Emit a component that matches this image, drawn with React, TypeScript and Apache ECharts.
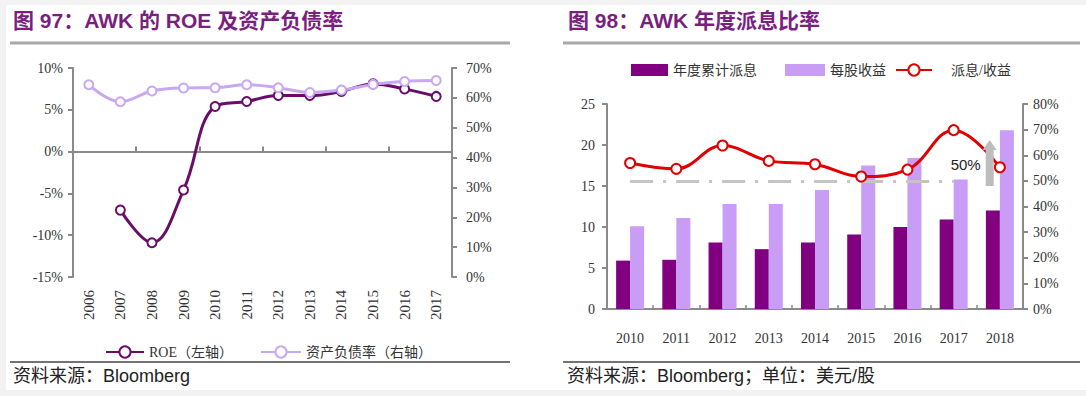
import React, { useEffect, useRef } from "react";
import * as echarts from "echarts";

// ---------- Data: Figure 97 ----------
const roeYears = ["2006", "2007", "2008", "2009", "2010", "2011", "2012", "2013", "2014", "2015", "2016", "2017"];
const roeValues: (number | null)[] = [null, -7.0, -10.9, -4.6, 5.4, 6.0, 6.7, 6.7, 7.2, 8.1, 7.5, 6.6];
const debtRatio = [64.4, 58.7, 62.3, 63.3, 63.4, 64.4, 63.4, 61.8, 62.6, 64.5, 65.5, 65.8];

// ---------- Data: Figure 98 ----------
const payYears = ["2010", "2011", "2012", "2013", "2014", "2015", "2016", "2017", "2018"];
const dividends = [5.9, 6.0, 8.1, 7.3, 8.1, 9.1, 10.0, 10.9, 12.0];
const eps = [10.1, 11.1, 12.8, 12.8, 14.5, 17.5, 18.4, 15.8, 21.8];
const payoutRatio = [57.0, 54.7, 63.8, 57.8, 56.5, 51.7, 54.4, 69.8, 55.3];
const payoutLine = 50;
const arrowTop = 66;

const SERIF = "'Liberation Serif', 'Times New Roman', 'Noto Sans CJK SC', serif";
const SANS = "'Liberation Sans', Arial, 'Noto Sans CJK SC', sans-serif";
const TITLE_COLOR = "#7a1f7e";
const AXIS_COLOR = "#8a8a8a";
const ROE_COLOR = "#6a0d6a";
const DEBT_COLOR = "#c8a8f0";
const DIV_COLOR = "#800080";
const EPS_COLOR = "#c99cf6";
const RED = "#e00000";

const axisLabel = { fontFamily: SERIF, fontSize: 14, color: "#333" };

export default function App() {
  const ref = useRef<HTMLDivElement>(null);
  useEffect(() => {
    document.body.style.margin = "0";
    const chart = echarts.init(ref.current!, null, { renderer: "svg" });
    const legendText = { fontFamily: SERIF, fontSize: 14, color: "#333" };
    chart.setOption({
      animation: false,
      backgroundColor: "#f2f2f2",
      grid: [
        { left: 73, top: 68, width: 379, height: 209 },
        { left: 607, top: 104, width: 416, height: 205 },
      ],
      legend: [
        { left: 100, top: 340, itemWidth: 38, itemHeight: 14, data: ["ROE（左轴）"], textStyle: legendText },
        { left: 255, top: 340, itemWidth: 40, itemHeight: 14, data: ["资产负债率（右轴）"], textStyle: legendText },
        { left: 626, top: 58, itemWidth: 37, itemHeight: 12, icon: "rect", data: ["年度累计派息"], textStyle: legendText },
        { left: 780, top: 58, itemWidth: 40, itemHeight: 12, icon: "rect", data: ["每股收益"], textStyle: legendText },
        { left: 890, top: 58, itemWidth: 36, itemHeight: 14, data: ["派息/收益"], textStyle: { ...legendText, padding: [0, 0, 0, 14] } },
      ],
      xAxis: [
        {
          gridIndex: 0,
          type: "category",
          data: roeYears,
          position: "bottom",
          axisLine: { show: true, onZero: true, onZeroAxisIndex: 0, lineStyle: { color: AXIS_COLOR, width: 2 } },
          axisTick: { show: true, inside: true, length: 5, lineStyle: { color: AXIS_COLOR, width: 2 } },
          axisLabel: { show: false },
        },
        {
          gridIndex: 0,
          type: "category",
          data: roeYears,
          position: "bottom",
          axisLine: { show: false, onZero: false },
          axisTick: { show: false },
          axisLabel: { ...axisLabel, fontSize: 15, rotate: 90, margin: 13, interval: 0 },
        },
        {
          gridIndex: 1,
          type: "category",
          data: payYears,
          position: "bottom",
          axisLine: { show: true, lineStyle: { color: AXIS_COLOR, width: 2 } },
          axisTick: { show: true, inside: true, length: 4, lineStyle: { color: AXIS_COLOR, width: 1.5 } },
          axisLabel: { ...axisLabel, margin: 22, interval: 0 },
        },
      ],
      yAxis: [
        {
          gridIndex: 0, type: "value", min: -15, max: 10, interval: 5, position: "left",
          axisLine: { show: true, lineStyle: { color: AXIS_COLOR, width: 2 } },
          axisTick: { show: true, length: 5, lineStyle: { color: AXIS_COLOR, width: 2 } },
          splitLine: { show: false },
          axisLabel: { ...axisLabel, margin: 10, formatter: "{value}%" },
        },
        {
          gridIndex: 0, type: "value", min: 0, max: 70, interval: 10, position: "right",
          axisLine: { show: true, lineStyle: { color: AXIS_COLOR, width: 2 } },
          axisTick: { show: true, length: 5, lineStyle: { color: AXIS_COLOR, width: 2 } },
          splitLine: { show: false },
          axisLabel: { ...axisLabel, margin: 14, formatter: "{value}%" },
        },
        {
          gridIndex: 1, type: "value", min: 0, max: 25, interval: 5, position: "left",
          axisLine: { show: true, lineStyle: { color: AXIS_COLOR, width: 2 } },
          axisTick: { show: true, length: 5, lineStyle: { color: AXIS_COLOR, width: 2 } },
          splitLine: { show: false },
          axisLabel: { ...axisLabel, margin: 12 },
        },
        {
          gridIndex: 1, type: "value", min: 0, max: 80, interval: 10, position: "right",
          axisLine: { show: true, lineStyle: { color: AXIS_COLOR, width: 2 } },
          axisTick: { show: true, length: 5, lineStyle: { color: AXIS_COLOR, width: 2 } },
          splitLine: { show: false },
          axisLabel: { ...axisLabel, margin: 10, formatter: "{value}%" },
        },
      ],
      series: [
        {
          name: "ROE（左轴）", type: "line", xAxisIndex: 0, yAxisIndex: 0, data: roeValues,
          smooth: 0.4, symbol: "circle", symbolSize: 9,
          lineStyle: { color: ROE_COLOR, width: 3 },
          itemStyle: { color: "#fff", borderColor: ROE_COLOR, borderWidth: 2 },
        },
        {
          name: "资产负债率（右轴）", type: "line", xAxisIndex: 0, yAxisIndex: 1, data: debtRatio,
          smooth: 0.4, symbol: "circle", symbolSize: 9,
          lineStyle: { color: DEBT_COLOR, width: 3 },
          itemStyle: { color: "#fff", borderColor: DEBT_COLOR, borderWidth: 2 },
        },
        {
          name: "年度累计派息", type: "bar", xAxisIndex: 2, yAxisIndex: 2, data: dividends,
          barWidth: 14, barGap: "0%", itemStyle: { color: DIV_COLOR },
        },
        {
          name: "每股收益", type: "bar", xAxisIndex: 2, yAxisIndex: 2, data: eps,
          barWidth: 14, barGap: "0%", itemStyle: { color: EPS_COLOR },
        },
        {
          name: "派息/收益", type: "line", xAxisIndex: 2, yAxisIndex: 3, data: payoutRatio,
          smooth: 0.4, symbol: "circle", symbolSize: 10, z: 5,
          lineStyle: { color: RED, width: 3 },
          itemStyle: { color: "#fff", borderColor: RED, borderWidth: 2 },
          markLine: {
            silent: true, symbol: "none", label: { show: false },
            lineStyle: { color: "#c4c4c4", width: 3, type: [23, 10, 3, 10] },
            data: [[{ coord: [0, payoutLine] }, { coord: [7.15, payoutLine] }]],
          },
        },
      ],
    });

    const pA = chart.convertToPixel({ seriesIndex: 4 }, [7, payoutLine]) as number[];
    const pB = chart.convertToPixel({ seriesIndex: 4 }, [8, arrowTop]) as number[];
    const ax = pA[0] + (pB[0] - pA[0]) * 0.78;
    const yBase = pA[1] + 5;
    const yTip = pB[1];

    chart.setOption({
      graphic: [
        { type: "rect", z: -10, shape: { x: 6, y: 5, width: 1080, height: 385 }, style: { fill: "#fff" }, silent: true },
        { type: "text", x: 13, y: 20, style: { text: "图 97：AWK 的 ROE 及资产负债率", fill: TITLE_COLOR, font: `bold 21px ${SANS}`, textVerticalAlign: "middle" } },
        { type: "line", shape: { x1: 10, y1: 43, x2: 510, y2: 43 }, style: { stroke: "#a8a8a8", lineWidth: 3 } },
        { type: "text", x: 568, y: 20, style: { text: "图 98：AWK 年度派息比率", fill: TITLE_COLOR, font: `bold 21px ${SANS}`, textVerticalAlign: "middle" } },
        { type: "line", shape: { x1: 563, y1: 43, x2: 1080, y2: 43 }, style: { stroke: "#a8a8a8", lineWidth: 3 } },
        { type: "line", shape: { x1: 10, y1: 362, x2: 510, y2: 362 }, style: { stroke: "#444", lineWidth: 1.5 } },
        { type: "line", shape: { x1: 563, y1: 362, x2: 1080, y2: 362 }, style: { stroke: "#444", lineWidth: 1.5 } },
        { type: "text", x: 13, y: 376, style: { text: "资料来源：Bloomberg", fill: "#222", font: `18px ${SANS}`, textVerticalAlign: "middle" } },
        { type: "text", x: 567, y: 376, style: { text: "资料来源：Bloomberg；单位：美元/股", fill: "#222", font: `18px ${SANS}`, textVerticalAlign: "middle" } },
        {
          type: "polygon", z: 10,
          shape: {
            points: [
              [ax - 4, yBase], [ax + 4, yBase], [ax + 4, yTip + 10], [ax + 7, yTip + 10],
              [ax, yTip], [ax - 7, yTip + 10], [ax - 4, yTip + 10],
            ],
          },
          style: { fill: "#bdbdbd" },
        },
        { type: "text", z: 10, x: ax - 9, y: pA[1] - 16, style: { text: "50%", fill: "#222", font: `15px ${SANS}`, textAlign: "right", textVerticalAlign: "middle" } },
      ],
    });
    return () => chart.dispose();
  }, []);
  return <div ref={ref} style={{ width: 1086, height: 396 }} />;
}
